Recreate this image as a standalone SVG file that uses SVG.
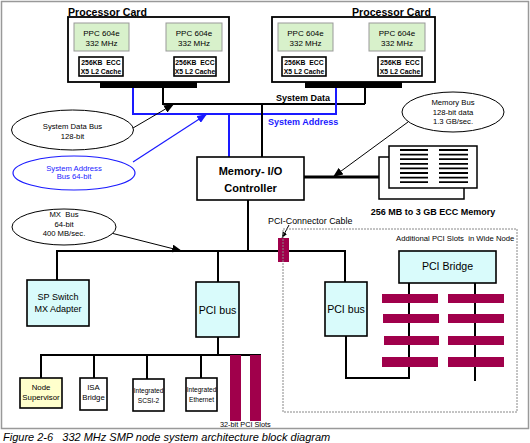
<svg xmlns="http://www.w3.org/2000/svg" width="530" height="443" viewBox="0 0 530 443" xml:space="preserve">
<style>
text{font-family:"Liberation Sans",Arial,sans-serif;fill:#000;white-space:pre}
.t{font-size:10.6px;font-weight:bold}
.ppc{font-size:8px;text-anchor:middle}
.cache{font-size:6.8px;font-weight:bold;text-anchor:middle}
.el{font-size:7.7px;text-anchor:middle}
.box{fill:#fff;stroke:#000;stroke-width:1.6}
.card{fill:#fff;stroke:#000;stroke-width:1.8}
.green{fill:#d8f1cb;stroke:#999;stroke-width:1}
.cyan{fill:#d9fbfb;stroke:#000;stroke-width:1.6}
.w{stroke:#000;stroke-width:2;fill:none}
.bl{stroke:#1a1aff;stroke-width:2;fill:none}
.slot{fill:#a0004b}
.ell{fill:#fff;stroke:#000;stroke-width:1}
</style>
<defs>
<marker id="ah" markerWidth="10" markerHeight="8" refX="10" refY="4" orient="auto" markerUnits="userSpaceOnUse"><path d="M0,0 L10,4 L0,8 z" fill="#000"/></marker>
<marker id="ahb" markerWidth="10" markerHeight="8" refX="10" refY="4" orient="auto" markerUnits="userSpaceOnUse"><path d="M0,0 L10,4 L0,8 z" fill="#1a1aff"/></marker>
<marker id="ahs" markerWidth="6" markerHeight="5" refX="6" refY="2.5" orient="auto" markerUnits="userSpaceOnUse"><path d="M0,0 L6,2.5 L0,5 z" fill="#000"/></marker>
</defs>
<rect x="1.5" y="1.5" width="527" height="427" fill="#fff" stroke="#999" stroke-width="1.5"/>
<g id="connectors">
<path class="w" d="M123,66 H174"/>
<path class="w" d="M163,66 V104 H365"/>
<path class="w" d="M326,66 H378"/>
<path class="w" d="M365,66 V104"/>
<path class="bl" d="M133,88 V114 H336 V88"/>
<path class="bl" d="M229,114 V157"/>
<path class="w" d="M262,104 V157"/>
<path d="M304,177 H379" stroke="#000" stroke-width="3"/>
<path class="w" d="M248,200 V251"/>
<path class="w" d="M57,280 V251 H345 V282"/>
<path class="w" d="M218,251 V282"/>
<path class="w" d="M218,337 V355"/>
<path class="w" d="M41,378 V355 H261"/>
<path class="w" d="M94,355 V378"/>
<path class="w" d="M147,355 V379"/>
<path class="w" d="M201,355 V378"/>
<path class="w" d="M346,336 V378 H409 V283"/>
<path class="w" d="M475,283 V381"/>
<path d="M133,128 L174,104" stroke="#000" stroke-width="1" marker-end="url(#ah)"/>
<path d="M133,162 L207,114" stroke="#1a1aff" stroke-width="1.2" marker-end="url(#ahb)"/>
<path d="M111,233 L182,251" stroke="#000" stroke-width="1" marker-end="url(#ah)"/>
<path d="M408,122 L333,177" stroke="#000" stroke-width="1" marker-end="url(#ah)"/>
<path d="M289,225 L282,238" stroke="#000" stroke-width="1" marker-end="url(#ahs)"/>
</g>
<g id="processor-card-left">
<text class="t" x="68" y="15.5">Processor Card</text>
<rect class="card" x="68" y="17" width="161" height="65"/>
<rect class="green" x="74" y="23" width="55" height="28"/>
<text class="ppc" x="101.5" y="36">PPC 604e</text>
<text class="ppc" x="101.5" y="46">332 MHz</text>
<rect class="green" x="166" y="23" width="56" height="28"/>
<text class="ppc" x="194" y="36">PPC 604e</text>
<text class="ppc" x="194" y="46">332 MHz</text>
<rect class="box" x="79" y="57" width="44" height="19" stroke-width="1.4"/>
<text class="cache" x="101" y="64.5">256KB  ECC</text>
<text class="cache" x="101" y="73.5">X5 L2 Cache</text>
<rect class="box" x="174" y="57" width="42" height="19" stroke-width="1.4"/>
<text class="cache" x="195" y="64.5">256KB  ECC</text>
<text class="cache" x="195" y="73.5">X5 L2 Cache</text>
<rect x="100" y="82" width="97" height="6" fill="#000"/>
</g>
<g id="processor-card-right">
<text class="t" x="352" y="15.5">Processor Card</text>
<rect class="card" x="272" y="17" width="163" height="65"/>
<rect class="green" x="278" y="23" width="55" height="28"/>
<text class="ppc" x="305.5" y="36">PPC 604e</text>
<text class="ppc" x="305.5" y="46">332 MHz</text>
<rect class="green" x="369" y="23" width="56" height="28"/>
<text class="ppc" x="397" y="36">PPC 604e</text>
<text class="ppc" x="397" y="46">332 MHz</text>
<rect class="box" x="282" y="57" width="44" height="19" stroke-width="1.4"/>
<text class="cache" x="304" y="64.5">256KB  ECC</text>
<text class="cache" x="304" y="73.5">X5 L2 Cache</text>
<rect class="box" x="378" y="57" width="44" height="19" stroke-width="1.4"/>
<text class="cache" x="400" y="64.5">256KB  ECC</text>
<text class="cache" x="400" y="73.5">X5 L2 Cache</text>
<rect x="305" y="82" width="97" height="6" fill="#000"/>
</g>
<g id="bus-labels">
<text x="276" y="101" style="font-size:9px;font-weight:bold">System Data</text>
<text x="268" y="125" style="font-size:9px;font-weight:bold;fill:#1a1aff">System Address</text>
</g>
<g id="system-data-bus-note">
<ellipse class="ell" cx="72.5" cy="130" rx="61" ry="20"/>
<text class="el" x="72.5" y="129">System Data Bus</text>
<text class="el" x="72.5" y="139">128-bit</text>
</g>
<g id="system-address-bus-note">
<ellipse cx="74" cy="173" rx="61" ry="17" fill="#fff" stroke="#1a1aff" stroke-width="1.2"/>
<text class="el" x="74" y="171" style="fill:#1a1aff">System Address</text>
<text class="el" x="74" y="179" style="fill:#1a1aff">Bus 64-bit</text>
</g>
<g id="memory-bus-note">
<ellipse class="ell" cx="453" cy="112" rx="51" ry="20"/>
<text class="el" x="453" y="105">Memory Bus</text>
<text class="el" x="453" y="115">128-bit data</text>
<text class="el" x="453" y="124">1.3 GB/sec.</text>
</g>
<g id="mx-bus-note">
<ellipse class="ell" cx="64" cy="227" rx="52" ry="18"/>
<text class="el" x="64" y="217">MX  Bus</text>
<text class="el" x="64" y="227">64-bit</text>
<text class="el" x="64" y="236">400 MB/sec.</text>
</g>
<g id="memory-io-controller">
<rect class="box" x="197" y="157" width="107" height="43"/>
<text x="250.5" y="175" style="font-size:11px;font-weight:bold;text-anchor:middle">Memory- I/O</text>
<text x="250.5" y="192" style="font-size:11px;font-weight:bold;text-anchor:middle">Controller</text>
</g>
<g id="memory">
<rect x="379" y="157" width="85" height="42" fill="#fff" stroke="#000" stroke-width="1.5"/>
<rect x="389" y="146" width="88" height="42" fill="#fff" stroke="#000" stroke-width="1.5"/>
<g stroke="#000" stroke-width="1.8">
<path d="M400,150H428M400,154.6H428M400,159.2H428M400,163.8H428M400,168.4H428M400,173H428M400,177.6H428M400,182.2H428"/>
<path d="M439,150H468M439,154.6H468M439,159.2H468M439,163.8H468M439,168.4H468M439,173H468M439,177.6H468M439,182.2H468"/>
</g>
<text x="433" y="215" style="font-size:9px;font-weight:bold;text-anchor:middle">256 MB to 3 GB ECC Memory</text>
</g>
<g id="pci-connector-cable">
<rect class="slot" x="278" y="238" width="11" height="24"/>
<text x="268" y="224" style="font-size:8.9px">PCI-Connector Cable</text>
</g>
<g id="sp-switch">
<rect class="cyan" x="27" y="280" width="62" height="46"/>
<text x="58" y="300" style="font-size:9px;text-anchor:middle">SP Switch</text>
<text x="58" y="312" style="font-size:9px;text-anchor:middle">MX Adapter</text>
</g>
<g id="pci-bus-left">
<rect class="cyan" x="196" y="282" width="43" height="55"/>
<text x="217.5" y="314" style="font-size:10.6px;text-anchor:middle">PCI bus</text>
</g>
<g id="node-supervisor">
<rect x="20" y="378" width="42" height="30" fill="#ffffcc" stroke="#000" stroke-width="1.6"/>
<text x="41" y="390" style="font-size:7.8px;text-anchor:middle">Node</text>
<text x="41" y="400" style="font-size:7.8px;text-anchor:middle">Supervisor</text>
</g>
<g id="isa-bridge">
<rect class="box" x="80" y="378" width="27" height="32"/>
<text x="93.5" y="390" style="font-size:7.8px;text-anchor:middle">ISA</text>
<text x="93.5" y="400" style="font-size:7.8px;text-anchor:middle">Bridge</text>
</g>
<g id="integrated-scsi">
<rect class="box" x="133" y="379" width="31" height="32"/>
<text x="148.5" y="393" style="font-size:6.6px;text-anchor:middle">Integrated</text>
<text x="148.5" y="403" style="font-size:6.6px;text-anchor:middle">SCSI-2</text>
</g>
<g id="integrated-ethernet">
<rect class="box" x="186" y="378" width="31" height="33"/>
<text x="201.5" y="392" style="font-size:6.6px;text-anchor:middle">Integrated</text>
<text x="201.5" y="402" style="font-size:6.6px;text-anchor:middle">Ethernet</text>
</g>
<g id="pci-slots-32bit">
<rect class="slot" x="230" y="355" width="11" height="66"/>
<rect class="slot" x="250" y="355" width="11" height="66"/>
<text x="220" y="427" style="font-size:7.3px">32-bit PCI Slots</text>
</g>
<g id="wide-node">
<rect x="283" y="229" width="234" height="183" fill="none" stroke="#888" stroke-width="1" stroke-dasharray="2,1"/>
<text x="396" y="241" style="font-size:7.7px">Additional PCI Slots  in Wide Node</text>
</g>
<g id="pci-bus-right">
<rect class="cyan" x="325" y="282" width="42" height="54"/>
<text x="346" y="313" style="font-size:10.6px;text-anchor:middle">PCI bus</text>
</g>
<g id="pci-bridge">
<rect class="cyan" x="399" y="251" width="97" height="32"/>
<text x="447.5" y="270" style="font-size:10.6px;text-anchor:middle">PCI Bridge</text>
</g>
<g id="wide-node-slots">
<rect class="slot" x="382" y="294" width="56" height="9"/>
<rect class="slot" x="383" y="314" width="56" height="9"/>
<rect class="slot" x="384" y="336" width="55" height="9"/>
<rect class="slot" x="382" y="357" width="56" height="10"/>
<rect class="slot" x="448" y="294" width="56" height="9"/>
<rect class="slot" x="448" y="314" width="56" height="9"/>
<rect class="slot" x="448" y="336" width="56" height="9"/>
<rect class="slot" x="448" y="357" width="56" height="10"/>
</g>
<text x="3" y="441" style="font-size:11px;font-style:italic">Figure 2-6   332 MHz SMP node system architecture block diagram</text>
</svg>
